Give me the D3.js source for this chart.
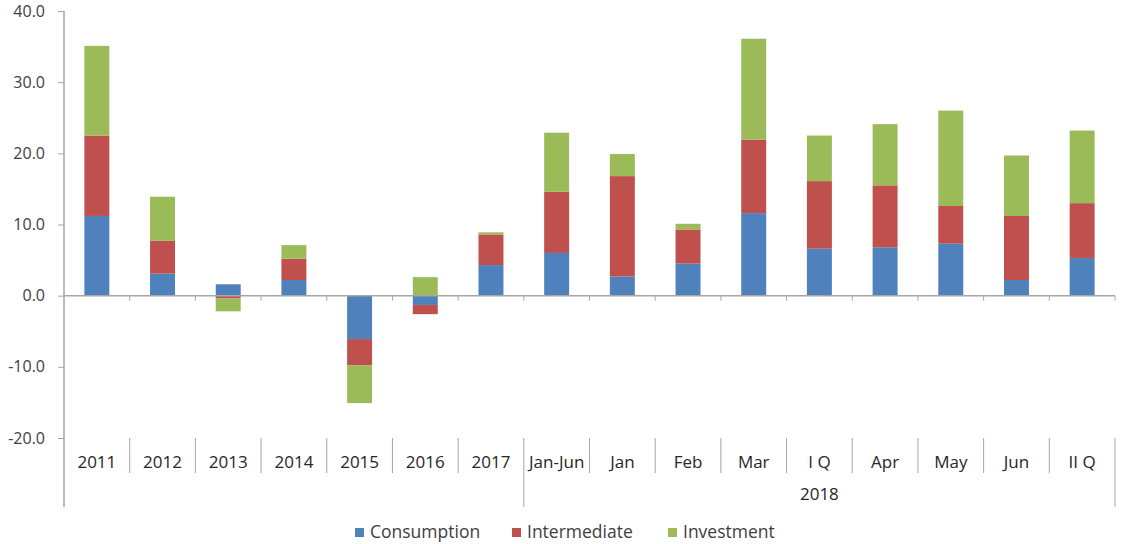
<!DOCTYPE html>
<html>
<head>
<meta charset="utf-8">
<script src="https://cdn.jsdelivr.net/npm/d3@7"></script>
<style>
  body { margin: 0; background: #fff; }
  svg { display: block; font-family: "Open Sans", sans-serif; }
</style>
</head>
<body>
<svg id="chart"></svg>
<script>
const categories = ["2011", "2012", "2013", "2014", "2015", "2016", "2017", "Jan-Jun", "Jan", "Feb", "Mar", "I Q", "Apr", "May", "Jun", "II Q"]
const consumption = [11.2, 3.1, 1.6, 2.2, -6.1, -1.3, 4.3, 6.0, 2.7, 4.5, 11.6, 6.6, 6.8, 7.3, 2.2, 5.3]
const intermediate = [11.3, 4.6, -0.4, 3.0, -3.7, -1.3, 4.3, 8.6, 14.1, 4.8, 10.3, 9.5, 8.7, 5.3, 9.0, 7.7]
const investment = [12.6, 6.2, -1.8, 1.9, -5.3, 2.6, 0.3, 8.3, 3.1, 0.8, 14.2, 6.4, 8.6, 13.4, 8.5, 10.2]
const seriesNames = ["Consumption", "Intermediate", "Investment"]
const yTicks = [-20, -10, 0, 10, 20, 30, 40]
const groupLabel = "2018"
const groupFirst = "Jan-Jun"

function initializeElements() {
  const svgWidth = 1126
  const svgHeight = 544
  const plot = ({left: 64, right: 1115, top: 11, bottom: 438})
  const colors = ["#4f81bd", "#c0504d", "#9bbb59"]
  const axisColor = "#a6a6a6"
  const font = "'Open Sans', sans-serif"

  const svg = d3.select("#chart")
    .attr("width", svgWidth)
    .attr("height", svgHeight)

  const rows = categories.map((c, i) => ({
    cat: c,
    Consumption: consumption[i],
    Intermediate: intermediate[i],
    Investment: investment[i]
  }))

  const stacked = d3.stack()
    .keys(seriesNames)
    .offset(d3.stackOffsetDiverging)(rows)

  const pad = 0.62
  const xScale = d3.scaleBand()
    .domain(categories)
    .range([plot.left, plot.right])
    .paddingInner(pad)
    .paddingOuter(pad / 2)

  const yScale = d3.scaleLinear()
    .domain([-20, 40])
    .range([plot.bottom, plot.top])

  const step = xScale.step()
  const boundary = i => plot.left + i * step

  // bars
  svg.append("g")
    .selectAll("g")
    .data(stacked)
    .join("g")
    .attr("fill", (d, i) => colors[i])
    .selectAll("rect")
    .data(d => d)
    .join("rect")
    .attr("x", d => xScale(d.data.cat))
    .attr("y", d => yScale(Math.max(d[0], d[1])))
    .attr("width", xScale.bandwidth())
    .attr("height", d => Math.abs(yScale(d[0]) - yScale(d[1])))

  // y axis
  const yAxis = svg.append("g")
    .attr("transform", `translate(${plot.left}, 0)`)
    .call(d3.axisLeft(yScale).tickValues(yTicks).tickSize(6).tickPadding(13)
      .tickFormat(d => d.toFixed(1)))
    .attr("font-family", font)
  yAxis.select(".domain").remove()
  yAxis.selectAll("line").attr("stroke", axisColor)
  yAxis.selectAll("text")
    .attr("fill", "#404040")
    .style("font-size", "16px")

  svg.append("line")
    .attr("x1", plot.left).attr("x2", plot.left)
    .attr("y1", plot.top).attr("y2", 507)
    .attr("stroke", axisColor).attr("stroke-width", 1.5)

  // zero line with ticks at category boundaries
  const y0 = yScale(0)
  svg.append("line")
    .attr("x1", plot.left).attr("x2", plot.right)
    .attr("y1", y0).attr("y2", y0)
    .attr("stroke", axisColor).attr("stroke-width", 1.5)

  const idx = d3.range(1, categories.length + 1)
  svg.append("g")
    .selectAll("line")
    .data(idx)
    .join("line")
    .attr("x1", boundary).attr("x2", boundary)
    .attr("y1", y0).attr("y2", y0 + 5)
    .attr("stroke", axisColor)

  // category dividers below the plot
  const groupIdx = categories.indexOf(groupFirst)
  svg.append("g")
    .selectAll("line")
    .data(idx)
    .join("line")
    .attr("x1", boundary).attr("x2", boundary)
    .attr("y1", plot.bottom)
    .attr("y2", i => (i === groupIdx || i === categories.length) ? 507 : 473)
    .attr("stroke", axisColor)

  // category labels
  const xAxis = svg.append("g")
    .attr("transform", `translate(0, ${plot.bottom})`)
    .call(d3.axisBottom(xScale).tickSize(0).tickPadding(18))
    .attr("font-family", font)
  xAxis.select(".domain").remove()
  xAxis.selectAll("text")
    .attr("fill", "#262626")
    .style("font-size", "17px")

  // group label
  svg.append("text")
    .attr("x", (boundary(groupIdx) + plot.right) / 2)
    .attr("y", 500)
    .attr("text-anchor", "middle")
    .attr("fill", "#262626")
    .style("font-size", "17px")
    .text(groupLabel)

  // legend
  const legendX = [355, 512, 668]
  const legend = svg.append("g")
    .selectAll("g")
    .data(seriesNames)
    .join("g")
    .attr("transform", (d, i) => `translate(${legendX[i]}, 528)`)
  legend.append("rect")
    .attr("width", 9).attr("height", 9)
    .attr("fill", (d, i) => colors[i])
  legend.append("text")
    .attr("x", 15)
    .attr("y", 10)
    .attr("fill", "#404040")
    .style("font-size", "17.5px")
    .text(d => d)
}

initializeElements();
</script>
</body>
</html>
